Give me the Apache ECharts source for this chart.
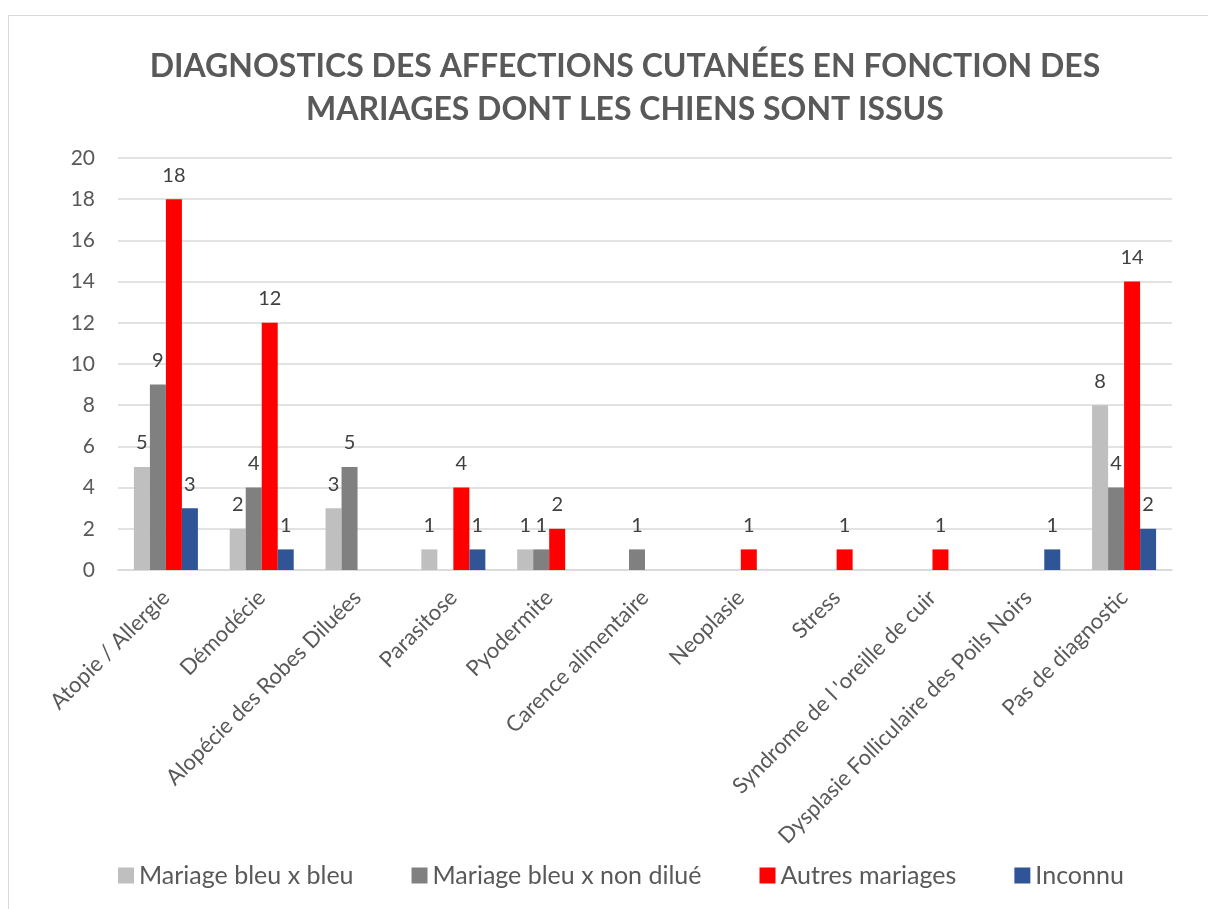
<!DOCTYPE html>
<html>
<head>
<meta charset="utf-8">
<script src="https://cdn.jsdelivr.net/npm/echarts@6/dist/echarts.min.js"></script>
<style>
html,body{margin:0;padding:0;background:#fff;}
#chart{width:1208px;height:909px;}
</style>
</head>
<body>
<div id="chart"></div>
<script>
const categories = ['Atopie / Allergie', 'Démodécie', 'Alopécie des Robes Diluées', 'Parasitose', 'Pyodermite',
  'Carence alimentaire', 'Neoplasie', 'Stress', "Syndrome de l 'oreille de cuir",
  'Dysplasie Folliculaire des Poils Noirs', 'Pas de diagnostic'];
const bleuBleu    = [5, 2, 3, 1, 1, 0, 0, 0, 0, 0, 8];
const bleuNonDilue = [9, 4, 5, 0, 1, 1, 0, 0, 0, 0, 4];
const autres      = [18, 12, 0, 4, 2, 0, 1, 1, 1, 0, 14];
const inconnu     = [3, 1, 0, 1, 0, 0, 0, 0, 0, 1, 2];
const yTicks = [0, 2, 4, 6, 8, 10, 12, 14, 16, 18, 20];

const font = 'Lato, "Open Sans", sans-serif';
let myChart = echarts.init(document.getElementById('chart'));

// serie commune
function bar(name, data, color) {
  return {
    name: name,
    type: 'bar',
    data: data,
    barWidth: 16,
    barGap: '0%',
    itemStyle: {color: color},
    label: {
      show: true,
      position: 'top',
      distance: 14,
      fontFamily: font,
      fontSize: 20,
      color: '#404040',
      formatter: p => p.value === 0 ? '' : p.value
    }
  };
}

myChart.setOption({
  animation: false,
  graphic: [{
    type: 'rect',
    shape: {x: 8.5, y: 15.5, width: 1300, height: 1000},
    style: {fill: 'none', stroke: '#d9d9d9', lineWidth: 1}
  }],
  title: {
    text: 'DIAGNOSTICS DES AFFECTIONS CUTANÉES EN FONCTION DES\nMARIAGES DONT LES CHIENS SONT ISSUS',
    left: 620,
    textAlign: 'center',
    top: 40,
    textStyle: {fontFamily: font, fontSize: 32, fontWeight: 'bold', color: '#595959', lineHeight: 43}
  },
  legend: {
    bottom: 16,
    left: 113,
    itemWidth: 16,
    itemHeight: 16,
    itemGap: 58,
    icon: 'rect',
    textStyle: {fontFamily: font, fontSize: 25, color: '#595959'},
    data: ['Mariage bleu x bleu', 'Mariage bleu x non dilué', 'Autres mariages', 'Inconnu']
  },
  grid: {left: 118, right: 36, top: 158, bottom: 339},
  xAxis: {
    type: 'category',
    data: categories,
    axisTick: {show: false},
    axisLine: {lineStyle: {color: '#d9d9d9', width: 1.5}},
    axisLabel: {rotate: 45, interval: 0, margin: 24, fontFamily: font, fontSize: 22, color: '#595959'}
  },
  yAxis: {
    type: 'value',
    min: yTicks[0],
    max: yTicks[yTicks.length - 1],
    interval: 2,
    axisLine: {show: false},
    axisTick: {show: false},
    splitLine: {lineStyle: {color: '#d9d9d9', width: 1.5}},
    axisLabel: {margin: 23, fontFamily: font, fontSize: 21, color: '#595959'}
  },
  series: [
    bar('Mariage bleu x bleu', bleuBleu, '#bfbfbf'),
    bar('Mariage bleu x non dilué', bleuNonDilue, '#808080'),
    bar('Autres mariages', autres, '#ff0000'),
    bar('Inconnu', inconnu, '#2f5597')
  ]
});
</script>
</body>
</html>
